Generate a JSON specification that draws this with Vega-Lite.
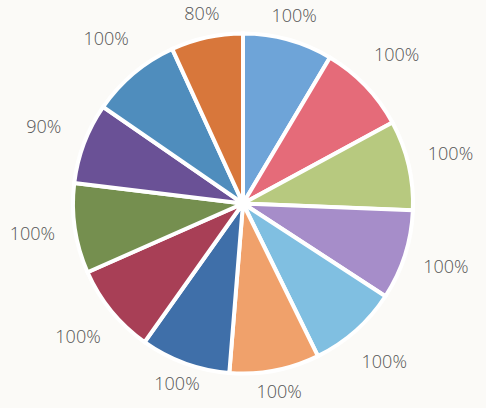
{
  "$schema": "https://vega.github.io/schema/vega-lite/v6.json",
  "width": 486,
  "height": 408,
  "autosize": {"type": "fit", "contains": "padding"},
  "background": "#fbfaf7",
  "view": {"stroke": null},
  "data": {
    "values": [
      {"item": "A", "idx": 1, "value": 100, "label": "100%"},
      {"item": "B", "idx": 2, "value": 100, "label": "100%"},
      {"item": "C", "idx": 3, "value": 100, "label": "100%"},
      {"item": "D", "idx": 4, "value": 100, "label": "100%"},
      {"item": "E", "idx": 5, "value": 100, "label": "100%"},
      {"item": "F", "idx": 6, "value": 100, "label": "100%"},
      {"item": "G", "idx": 7, "value": 100, "label": "100%"},
      {"item": "H", "idx": 8, "value": 100, "label": "100%"},
      {"item": "I", "idx": 9, "value": 100, "label": "100%"},
      {"item": "J", "idx": 10, "value": 90, "label": "90%"},
      {"item": "K", "idx": 11, "value": 100, "label": "100%"},
      {"item": "L", "idx": 12, "value": 80, "label": "80%"}
    ]
  },
  "encoding": {
    "theta": {"field": "value", "type": "quantitative", "stack": true},
    "order": {"field": "idx", "type": "quantitative"},
    "color": {
      "field": "item",
      "type": "nominal",
      "legend": null,
      "scale": {
        "domain": ["A","B","C","D","E","F","G","H","I","J","K","L"],
        "range": ["#6ea4d8","#e56b79","#b7c97f","#a68dc9","#80bfe1","#f0a16b","#3f6fa9","#a83f56","#758f4f","#6a5196","#4f8dbd","#d8773b"]
      }
    }
  },
  "layer": [
    {
      "mark": {"type": "arc", "outerRadius": 170, "stroke": "#ffffff", "strokeWidth": 4}
    },
    {
      "mark": {"type": "text", "radius": 213, "fontSize": 18, "font": "Open Sans", "fontWeight": 300, "fill": "#555555", "baseline": "middle"},
      "encoding": {
        "text": {"field": "label", "type": "nominal"},
        "opacity": {"condition": {"test": "indexof([1,6,7,12], datum.idx) < 0", "value": 1}, "value": 0}
      }
    },
    {
      "mark": {"type": "text", "radius": 193, "fontSize": 18, "font": "Open Sans", "fontWeight": 300, "fill": "#555555", "baseline": "middle"},
      "encoding": {
        "text": {"field": "label", "type": "nominal"},
        "opacity": {"condition": {"test": "indexof([1,6,7,12], datum.idx) < 0", "value": 0}, "value": 1}
      }
    }
  ]
}
